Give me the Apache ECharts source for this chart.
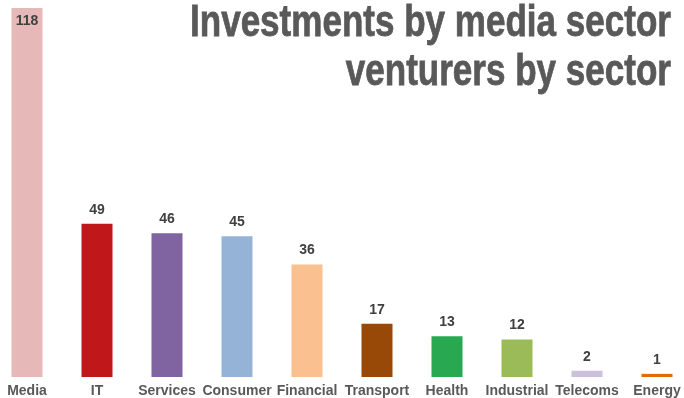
<!DOCTYPE html>
<html>
<head>
<meta charset="utf-8">
<script src="https://cdn.jsdelivr.net/npm/echarts@6/dist/echarts.min.js"></script>
<style>
  html, body { margin: 0; padding: 0; background: #fff; }
  #chart { width: 684px; height: 398px; }
</style>
</head>
<body>
<div id="chart"></div>
<script>
// Sectors and number of investments per sector
const sectors = ['Media', 'IT', 'Services', 'Consumer', 'Financial', 'Transport', 'Health', 'Industrial', 'Telecoms', 'Energy'];
const investments = [118, 49, 46, 45, 36, 17, 13, 12, 2, 1];
const sectorColors = ['#E6B9B8', '#C0181A', '#8064A2', '#95B3D7', '#FAC090', '#984807', '#28A850', '#9BBB59', '#CCC1DA', '#E36C09'];
const titleLines = ['Investments by media sector', 'venturers by sector'];

const chart = echarts.init(document.getElementById('chart'), null, { renderer: 'canvas' });

// Headline is set in a bold face squeezed horizontally to a condensed look
const titleFont = '"Liberation Sans", Arial, sans-serif';
const titleSize = 45;
const titleWidth = 481;
const measureCtx = document.createElement('canvas').getContext('2d');
measureCtx.font = 'bold ' + titleSize + 'px ' + titleFont;
const squeeze = titleWidth / measureCtx.measureText(titleLines[0]).width;

const titleText = (text, y) => ({
  type: 'text',
  x: 671,
  y: y,
  scaleX: squeeze,
  style: {
    text: text,
    align: 'right',
    verticalAlign: 'middle',
    fill: '#595959',
    stroke: '#595959',
    lineWidth: 0.8,
    fontFamily: titleFont,
    fontWeight: 'bold',
    fontSize: titleSize
  }
});

const barData = investments.map((v, i) => ({
  value: v,
  itemStyle: { color: sectorColors[i] },
  // the tallest bar carries its label inside the top of the bar
  label: i === 0 ? { position: 'insideTop', distance: 6 } : undefined
}));

chart.setOption({
  animation: false,
  grid: { left: -8, right: -8, top: 8, bottom: 21, containLabel: false, outerBoundsMode: 'none' },
  xAxis: {
    type: 'category',
    data: sectors,
    axisLine: { show: false },
    axisTick: { show: false },
    axisLabel: {
      interval: 0,
      margin: 7,
      color: '#595959',
      fontFamily: '"Liberation Sans", Arial, sans-serif',
      fontWeight: 'bold',
      fontSize: 14
    }
  },
  yAxis: {
    type: 'value',
    min: 0,
    max: 118,
    show: false,
    splitLine: { show: false }
  },
  series: [{
    type: 'bar',
    data: barData,
    barWidth: 31,
    label: {
      show: true,
      position: 'top',
      distance: 7,
      color: '#404040',
      fontFamily: '"Liberation Sans", Arial, sans-serif',
      fontWeight: 'bold',
      fontSize: 14
    }
  }],
  graphic: [titleText(titleLines[0], 24), titleText(titleLines[1], 73)]
});
</script>
</body>
</html>
